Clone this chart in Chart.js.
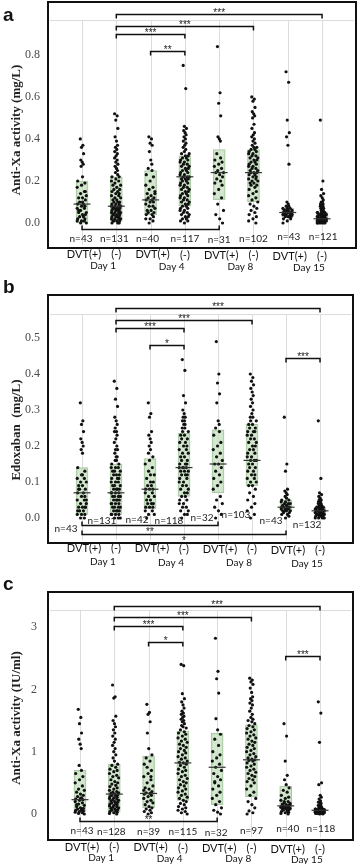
<!DOCTYPE html>
<html>
<head>
<meta charset="utf-8">
<script src="https://cdn.jsdelivr.net/npm/chart.js@4.4.1/dist/chart.umd.min.js"></script>
<style>
  html, body { margin: 0; padding: 0; background: #fff; width: 358px; height: 864px; overflow: hidden; }
  canvas { position: absolute; left: 0; }
</style>
</head>
<body>
<canvas id="chart-a" width="358" height="275" style="top:0px"></canvas>
<canvas id="chart-b" width="358" height="295" style="top:275px"></canvas>
<canvas id="chart-c" width="358" height="294" style="top:570px"></canvas>
<script>
// categories
const groups = ['DVT(+)', '(-)', 'DVT(+)', '(-)', 'DVT(+)', '(-)', 'DVT(+)', '(-)'];
const days = ['Day 1', 'Day 4', 'Day 8', 'Day 15'];

// ---- panel a : Anti-Xa activity (mg/L) ----
const nA = [43, 131, 40, 117, 31, 102, 43, 121];
const q1A = [0.00, 0.01, 0.04, 0.08, 0.11, 0.10, 0.03, 0.01];
const medA = [0.09, 0.08, 0.11, 0.22, 0.24, 0.24, 0.05, 0.02];
const q3A = [0.20, 0.22, 0.25, 0.32, 0.35, 0.35, 0.07, 0.05];
const ticksA = [0, 0.2, 0.4, 0.6, 0.8];
const dotsA = [
  [0.40,0.37,0.36,0.33,0.30,0.29,0.28,0.27,0.22,0.20,0.19,0.18,0.17,0.15,0.14,0.13,0.12,0.12,0.11,0.10,0.09,0.09,0.08,0.08,0.07,0.07,0.06,0.05,0.05,0.04,0.04,0.03,0.03,0.02,0.02,0.01,0.01,0.01,0.00,0.00,0.06,0.10,0.15],
  [0.52,0.51,0.49,0.45,0.41,0.39,0.37,0.36,0.35,0.34,0.33,0.32,0.31,0.30,0.29,0.28,0.27,0.26,0.25,0.24,0.23,0.22,0.22,0.21,0.20,0.20,0.19,0.18,0.18,0.17,0.16,0.16,0.15,0.15,0.14,0.14,0.13,0.13,0.12,0.12,0.11,0.11,0.10,0.10,0.10,0.09,0.09,0.09,0.08,0.08,0.08,0.08,0.07,0.07,0.07,0.07,0.06,0.06,0.06,0.06,0.05,0.05,0.05,0.05,0.04,0.04,0.04,0.04,0.03,0.03,0.03,0.03,0.02,0.02,0.02,0.02,0.01,0.01,0.01,0.01,0.00,0.00,0.00],
  [0.41,0.40,0.38,0.37,0.34,0.30,0.28,0.26,0.25,0.23,0.22,0.20,0.18,0.17,0.16,0.15,0.14,0.13,0.12,0.12,0.11,0.11,0.10,0.10,0.09,0.08,0.08,0.07,0.06,0.06,0.05,0.05,0.04,0.04,0.03,0.02,0.02,0.01,0.00,0.14],
  [0.75,0.64,0.46,0.45,0.44,0.43,0.42,0.41,0.40,0.39,0.38,0.37,0.36,0.35,0.34,0.33,0.33,0.32,0.32,0.31,0.31,0.30,0.30,0.29,0.29,0.28,0.28,0.27,0.27,0.26,0.26,0.25,0.25,0.24,0.24,0.23,0.23,0.22,0.22,0.22,0.21,0.21,0.21,0.20,0.20,0.19,0.19,0.18,0.18,0.17,0.17,0.16,0.16,0.15,0.15,0.14,0.14,0.13,0.13,0.12,0.12,0.11,0.11,0.10,0.10,0.09,0.09,0.08,0.08,0.07,0.07,0.06,0.06,0.05,0.05,0.04,0.04,0.03,0.03,0.02,0.02,0.01,0.01,0.00],
  [0.84,0.62,0.57,0.51,0.41,0.40,0.39,0.33,0.31,0.30,0.29,0.28,0.27,0.26,0.25,0.24,0.24,0.23,0.22,0.21,0.20,0.19,0.18,0.16,0.14,0.12,0.09,0.06,0.04,0.02,0.00],
  [0.60,0.59,0.58,0.55,0.53,0.52,0.51,0.50,0.47,0.45,0.43,0.42,0.41,0.40,0.39,0.38,0.37,0.36,0.36,0.35,0.35,0.34,0.34,0.33,0.33,0.32,0.32,0.31,0.31,0.30,0.30,0.29,0.29,0.28,0.28,0.27,0.27,0.26,0.26,0.25,0.25,0.24,0.24,0.24,0.23,0.23,0.22,0.22,0.21,0.21,0.20,0.20,0.19,0.19,0.18,0.18,0.17,0.16,0.15,0.14,0.13,0.12,0.11,0.10,0.09,0.08,0.07,0.06,0.05,0.04,0.03,0.02,0.01,0.00],
  [0.72,0.67,0.49,0.43,0.41,0.37,0.28,0.10,0.09,0.08,0.08,0.07,0.07,0.07,0.06,0.06,0.06,0.06,0.05,0.05,0.05,0.05,0.05,0.05,0.04,0.04,0.04,0.04,0.04,0.03,0.03,0.03,0.03,0.02,0.02,0.01,0.00],
  [0.49,0.20,0.16,0.14,0.13,0.12,0.11,0.10,0.10,0.09,0.09,0.08,0.08,0.08,0.07,0.07,0.07,0.06,0.06,0.06,0.06,0.05,0.05,0.05,0.05,0.05,0.04,0.04,0.04,0.04,0.04,0.04,0.03,0.03,0.03,0.03,0.03,0.03,0.03,0.02,0.02,0.02,0.02,0.02,0.02,0.02,0.02,0.01,0.01,0.01,0.01,0.01,0.01,0.01,0.01,0.00,0.00,0.00,0.00,0.00,0.00]
];
const cmpA = [[2, 8, '***'], [2, 6, '***'], [2, 4, '***'], [3, 4, '**'], [1, 5, '']];

// ---- panel b : Edoxaban (mg/L) ----
const nB = [43, 131, 42, 118, 32, 103, 43, 132];
const q1B = [0.01, 0.01, 0.025, 0.06, 0.07, 0.09, 0.02, 0.01];
const medB = [0.07, 0.07, 0.08, 0.14, 0.15, 0.16, 0.03, 0.02];
const q3B = [0.14, 0.15, 0.165, 0.235, 0.245, 0.26, 0.05, 0.03];
const ticksB = [0, 0.1, 0.2, 0.3, 0.4, 0.5];
const dotsB = [
  [0.32,0.27,0.26,0.24,0.22,0.21,0.20,0.19,0.18,0.14,0.13,0.12,0.11,0.11,0.10,0.10,0.09,0.09,0.08,0.08,0.07,0.07,0.06,0.06,0.05,0.05,0.04,0.04,0.03,0.03,0.03,0.02,0.02,0.02,0.01,0.01,0.01,0.00,0.00,0.05,0.08,0.12,0.03],
  [0.38,0.36,0.33,0.31,0.28,0.27,0.26,0.25,0.24,0.24,0.23,0.22,0.21,0.20,0.19,0.19,0.18,0.17,0.17,0.16,0.16,0.15,0.15,0.14,0.14,0.14,0.13,0.13,0.13,0.12,0.12,0.12,0.11,0.11,0.11,0.10,0.10,0.10,0.09,0.09,0.09,0.08,0.08,0.08,0.08,0.07,0.07,0.07,0.07,0.06,0.06,0.06,0.06,0.05,0.05,0.05,0.05,0.04,0.04,0.04,0.04,0.03,0.03,0.03,0.03,0.02,0.02,0.02,0.02,0.01,0.01,0.01,0.01,0.00,0.00,0.00],
  [0.32,0.29,0.28,0.24,0.23,0.22,0.21,0.20,0.19,0.18,0.17,0.16,0.15,0.14,0.13,0.12,0.11,0.10,0.10,0.09,0.09,0.08,0.08,0.08,0.07,0.07,0.06,0.06,0.05,0.05,0.04,0.04,0.04,0.03,0.03,0.03,0.02,0.02,0.01,0.01,0.00,0.12],
  [0.44,0.41,0.34,0.32,0.30,0.29,0.28,0.28,0.27,0.27,0.26,0.26,0.25,0.25,0.24,0.24,0.23,0.23,0.22,0.22,0.21,0.21,0.20,0.20,0.19,0.19,0.18,0.18,0.17,0.17,0.16,0.16,0.15,0.15,0.15,0.14,0.14,0.14,0.14,0.13,0.13,0.13,0.12,0.12,0.12,0.11,0.11,0.10,0.10,0.09,0.09,0.08,0.08,0.07,0.07,0.06,0.06,0.05,0.05,0.04,0.04,0.03,0.03,0.02,0.02,0.01,0.01,0.00],
  [0.49,0.40,0.375,0.345,0.32,0.27,0.26,0.25,0.24,0.23,0.21,0.20,0.19,0.18,0.17,0.16,0.15,0.15,0.14,0.13,0.12,0.11,0.10,0.09,0.08,0.06,0.05,0.04,0.03,0.02,0.01,0.00],
  [0.40,0.39,0.38,0.37,0.36,0.35,0.34,0.33,0.32,0.31,0.30,0.29,0.28,0.28,0.27,0.27,0.26,0.26,0.25,0.25,0.24,0.24,0.24,0.23,0.23,0.22,0.22,0.21,0.21,0.20,0.20,0.19,0.19,0.18,0.18,0.17,0.17,0.16,0.16,0.16,0.15,0.15,0.14,0.14,0.13,0.13,0.12,0.12,0.11,0.11,0.10,0.10,0.09,0.09,0.08,0.07,0.06,0.05,0.04,0.03,0.02,0.01,0.00],
  [0.28,0.15,0.13,0.08,0.075,0.07,0.065,0.06,0.055,0.05,0.05,0.045,0.045,0.04,0.04,0.04,0.035,0.035,0.03,0.03,0.03,0.03,0.03,0.025,0.025,0.025,0.02,0.02,0.02,0.02,0.015,0.015,0.01,0.01,0.005,0.00],
  [0.27,0.11,0.07,0.065,0.06,0.055,0.05,0.05,0.045,0.045,0.04,0.04,0.04,0.035,0.035,0.035,0.03,0.03,0.03,0.03,0.025,0.025,0.025,0.025,0.025,0.02,0.02,0.02,0.02,0.02,0.02,0.02,0.015,0.015,0.015,0.015,0.015,0.015,0.01,0.01,0.01,0.01,0.01,0.01,0.005,0.005,0.005,0.005,0.00,0.00,0.00,0.00]
];
const cmpB = [[2, 8, '***'], [2, 6, '***'], [2, 4, '***'], [3, 4, '*'], [7, 8, '***'], [1, 5, '**'], [1, 7, '*']];

// ---- panel c : Anti-Xa activity (IU/ml) ----
const nC = [43, 128, 39, 115, 32, 97, 40, 118];
const q1C = [0.03, 0.03, 0.10, 0.22, 0.15, 0.28, 0.07, 0.03];
const medC = [0.23, 0.32, 0.33, 0.82, 0.75, 0.87, 0.13, 0.06];
const q3C = [0.70, 0.80, 0.93, 1.33, 1.30, 1.43, 0.45, 0.08];
const ticksC = [0, 1, 2, 3];
const dotsC = [
  [1.68,1.55,1.45,1.30,1.20,1.12,1.05,0.78,0.70,0.65,0.60,0.55,0.50,0.45,0.40,0.38,0.35,0.32,0.30,0.28,0.26,0.24,0.23,0.22,0.20,0.18,0.16,0.14,0.12,0.10,0.09,0.08,0.07,0.06,0.05,0.04,0.03,0.02,0.01,0.00,0.15,0.25,0.05],
  [2.07,1.88,1.86,1.57,1.50,1.45,1.40,1.35,1.30,1.25,1.20,1.15,1.10,1.05,1.00,0.95,0.90,0.85,0.80,0.78,0.75,0.72,0.70,0.68,0.65,0.62,0.60,0.58,0.55,0.52,0.50,0.48,0.46,0.44,0.42,0.40,0.38,0.36,0.35,0.34,0.33,0.32,0.31,0.30,0.29,0.28,0.27,0.26,0.25,0.24,0.23,0.22,0.21,0.20,0.19,0.18,0.17,0.16,0.15,0.14,0.13,0.12,0.11,0.10,0.09,0.08,0.07,0.06,0.05,0.04,0.03,0.02,0.01,0.00],
  [1.76,1.63,1.60,1.48,1.30,1.05,0.95,0.90,0.85,0.80,0.70,0.65,0.60,0.55,0.50,0.45,0.42,0.40,0.36,0.34,0.33,0.32,0.30,0.28,0.25,0.22,0.20,0.18,0.15,0.12,0.10,0.08,0.06,0.04,0.02,0.00,0.38,0.60,0.75],
  [2.40,2.38,1.93,1.85,1.80,1.75,1.70,1.65,1.62,1.60,1.57,1.55,1.52,1.50,1.48,1.45,1.42,1.40,1.38,1.35,1.32,1.30,1.28,1.25,1.22,1.20,1.17,1.15,1.12,1.10,1.07,1.05,1.02,1.00,0.98,0.95,0.92,0.90,0.88,0.85,0.83,0.82,0.80,0.78,0.75,0.72,0.70,0.68,0.65,0.62,0.60,0.57,0.55,0.52,0.50,0.47,0.45,0.42,0.40,0.37,0.35,0.32,0.30,0.27,0.25,0.22,0.20,0.17,0.15,0.12,0.10,0.08,0.06,0.04,0.02,0.00],
  [2.82,2.29,2.17,1.94,1.53,1.35,1.28,1.20,1.10,1.00,0.95,0.90,0.85,0.80,0.75,0.70,0.65,0.60,0.55,0.50,0.45,0.40,0.35,0.30,0.25,0.20,0.15,0.10,0.06,0.03,0.00,0.52],
  [2.18,2.15,2.12,2.08,2.02,1.95,1.88,1.85,1.82,1.78,1.75,1.70,1.65,1.60,1.55,1.52,1.50,1.48,1.45,1.42,1.40,1.37,1.35,1.32,1.30,1.27,1.25,1.22,1.20,1.17,1.15,1.12,1.10,1.07,1.05,1.02,1.00,0.97,0.95,0.92,0.90,0.88,0.87,0.86,0.85,0.82,0.80,0.77,0.75,0.72,0.70,0.67,0.65,0.62,0.60,0.57,0.55,0.52,0.50,0.45,0.40,0.35,0.30,0.25,0.20,0.15,0.10,0.05,0.02,0.00],
  [1.45,1.25,0.85,0.62,0.55,0.47,0.42,0.38,0.35,0.30,0.27,0.25,0.22,0.20,0.18,0.17,0.16,0.15,0.14,0.13,0.13,0.12,0.12,0.11,0.11,0.10,0.10,0.09,0.09,0.08,0.07,0.06,0.05,0.04,0.03,0.02,0.01,0.00,0.20,0.15],
  [1.80,1.62,1.15,0.50,0.47,0.30,0.27,0.24,0.21,0.19,0.17,0.15,0.14,0.13,0.12,0.11,0.10,0.10,0.09,0.09,0.09,0.08,0.08,0.08,0.08,0.07,0.07,0.07,0.07,0.07,0.06,0.06,0.06,0.06,0.06,0.06,0.05,0.05,0.05,0.05,0.05,0.05,0.04,0.04,0.04,0.04,0.04,0.03,0.03,0.03,0.03,0.02,0.02,0.02,0.02,0.01,0.01,0.01,0.00,0.00]
];
const cmpC = [[2, 8, '***'], [2, 6, '***'], [2, 4, '***'], [3, 4, '*'], [7, 8, '***'], [1, 5, '**']];

// layout of each panel (pixels inside its canvas), kept apart from the data
const panels = [
  {
    canvas: 'chart-a', letter: 'a', letterY: 21, title: 'Anti-Xa activity (mg/L)', titleY: 130,
    n: nA, q1: q1A, med: medA, q3: q3A, dots: dotsA, ticks: ticksA, cmp: cmpA, digits: 1,
    pad: { top: 2, right: 2, bottom: 27 }, yMin: -0.119, yMax: 1.052, xMin: 0.008, xMax: 8.99,
    gridTop: 20, cmpY: [14, 26, 34, 51, 229], cmpBelow: [false, false, false, false, false],
    nY: [239, 239, 239, 239, 240, 239, 237, 237], nDx: [-1, -2, -3, 0, 0, 0, 1, 1],
    grpY: 254, dayY: 266
  },
  {
    canvas: 'chart-b', letter: 'b', letterY: 18, title: 'Edoxaban  (mg/L)', titleY: 155,
    n: nB, q1: q1B, med: medB, q3: q3B, dots: dotsB, ticks: ticksB, cmp: cmpB, digits: 1,
    pad: { top: 20, right: 5, bottom: 27 }, yMin: -0.0694, yMax: 0.6194, xMin: 0, xMax: 8.97,
    gridTop: 39, cmpY: [33, 45, 53, 70, 83, 250, 259], cmpBelow: [false, false, false, false, false, true, true],
    nY: [254, 246, 245, 246, 243, 240, 246, 250], nDx: [-16, -14, -13, -15, -16, -16, -15, -13],
    grpY: 273, dayY: 287
  },
  {
    canvas: 'chart-c', letter: 'c', letterY: 20, title: 'Anti-Xa activity (IU/ml)', titleY: 148,
    n: nC, q1: q1C, med: medC, q3: q3C, dots: dotsC, ticks: ticksC, cmp: cmpC, digits: 0,
    pad: { top: 22, right: 5, bottom: 24 }, yMin: -0.417, yMax: 3.562, xMin: 0.067, xMax: 8.962,
    gridTop: 40, cmpY: [36, 47, 56, 72, 86, 251], cmpBelow: [false, false, false, false, false, false],
    nY: [261, 262, 262, 262, 263, 261, 259, 259], nDx: [2, -3, 0, 0, -1, 0, 2, 1],
    grpY: 277, dayY: 288
  }
];

const JIT = [-1, 0.5, -0.3, 0.9, -0.7, 0.1, 0.7, -0.5, 0.3, -0.9, 0.6, -0.1];

function makeDecor(p) {
  return {
    id: 'decor-' + p.letter,
    beforeDatasetsDraw(chart) {
      const { ctx, chartArea: a, scales: { x } } = chart;
      ctx.save();
      ctx.strokeStyle = '#dcdcdc';
      ctx.lineWidth = 1;
      ctx.beginPath();
      ctx.moveTo(a.left + 2, p.gridTop + 0.5);
      ctx.lineTo(a.right - 2, p.gridTop + 0.5);
      for (let i = 1; i <= groups.length; i++) {
        const px = Math.round(x.getPixelForValue(i)) + 0.5;
        ctx.moveTo(px, p.gridTop);
        ctx.lineTo(px, a.bottom - 3);
      }
      ctx.stroke();
      ctx.restore();
    },
    afterDraw(chart) {
      const { ctx, chartArea: a, scales: { x } } = chart;
      ctx.save();
      // frame
      ctx.strokeStyle = '#111';
      ctx.lineWidth = 2;
      ctx.strokeRect(a.left, a.top, a.right - a.left, a.bottom - a.top);

      // significance brackets
      ctx.lineWidth = 1.5;
      ctx.fillStyle = '#222';
      ctx.font = '10px "Liberation Sans", Arial, sans-serif';
      ctx.textAlign = 'center';
      ctx.textBaseline = 'alphabetic';
      p.cmp.forEach(([from, to, label], k) => {
        const yy = p.cmpY[k] + 0.5;
        const x0 = x.getPixelForValue(from), x1 = x.getPixelForValue(to);
        const up = yy > a.bottom - 60;
        const tick = up ? -4 : 4;
        ctx.beginPath();
        ctx.moveTo(x0, yy + tick);
        ctx.lineTo(x0, yy);
        ctx.lineTo(x1, yy);
        ctx.lineTo(x1, yy + tick);
        ctx.stroke();
        if (label) ctx.fillText(label, (x0 + x1) / 2, p.cmpBelow[k] ? yy + 9 : yy + 1);
      });

      // sample sizes
      ctx.font = '10px Lato, "Open Sans", sans-serif';
      ctx.textBaseline = 'middle';
      p.n.forEach((v, i) => {
        ctx.fillText('n=' + v, x.getPixelForValue(i + 1) + p.nDx[i], p.nY[i]);
      });

      // group and day labels under the frame
      ctx.fillStyle = '#111';
      ctx.font = '11px Lato, "Open Sans", sans-serif';
      groups.forEach((g, i) => {
        ctx.fillText(g, x.getPixelForValue(i + 1) + (i % 2 ? 0 : 2), p.grpY + i * 0.35);
      });
      ctx.font = '10px Lato, "Open Sans", sans-serif';
      days.forEach((d, j) => {
        const mid = (x.getPixelForValue(2 * j + 1) + x.getPixelForValue(2 * j + 2)) / 2;
        ctx.fillText(d, mid + 4, p.dayY + j * 0.6);
      });

      // panel letter
      ctx.textAlign = 'left';
      ctx.textBaseline = 'alphabetic';
      ctx.font = 'bold 19px "Liberation Sans", Arial, sans-serif';
      ctx.fillText(p.letter, 3, p.letterY);

      // y-axis title
      ctx.translate(17, p.titleY);
      ctx.rotate(-Math.PI / 2);
      ctx.textAlign = 'center';
      ctx.textBaseline = 'middle';
      ctx.font = 'bold 13px "Liberation Serif", "Times New Roman", serif';
      ctx.fillStyle = '#222';
      ctx.fillText(p.title, 0, 0);
      ctx.restore();
    }
  };
}

panels.forEach(p => {
  const boxes = p.q1.map((lo, i) => ({ x: i + 1, y: [lo, p.q3[i]] }));
  const medians = p.med.map((m, i) => ({ x: i + 1, y: m }));
  const points = [];
  p.dots.forEach((vals, i) => {
    vals.forEach((v, k) => {
      const inside = v <= p.q3[i] * 1.05;
      const amp = inside ? 0.14 : 0.05;
      points.push({ x: i + 1 + JIT[k % JIT.length] * amp, y: v });
    });
  });

  new Chart(document.getElementById(p.canvas), {
    type: 'bar',
    data: {
      datasets: [
        {
          type: 'bar', data: boxes, order: 3,
          backgroundColor: 'rgba(196, 224, 190, 0.75)', borderColor: '#a9c8a3', borderWidth: 1,
          borderSkipped: false, barThickness: 12, grouped: false
        },
        {
          type: 'scatter', data: points, order: 2,
          pointRadius: 1.6, pointBackgroundColor: '#111', pointBorderWidth: 0, pointHoverRadius: 1.6
        },
        {
          type: 'scatter', data: medians, order: 1,
          pointStyle: 'line', pointRadius: 8.5, pointBorderColor: '#333', pointBorderWidth: 1.2
        }
      ]
    },
    options: {
      responsive: false,
      animation: false,
      layout: { autoPadding: false, padding: { top: p.pad.top, right: p.pad.right, bottom: p.pad.bottom, left: 0 } },
      plugins: { legend: { display: false }, tooltip: { enabled: false } },
      scales: {
        x: { type: 'linear', min: p.xMin, max: p.xMax, offset: false, display: false },
        y: {
          type: 'linear', min: p.yMin, max: p.yMax,
          grid: { display: false, drawTicks: false }, border: { display: false },
          afterBuildTicks: s => { s.ticks = p.ticks.map(v => ({ value: v })); },
          afterFit: s => { s.width = 48; s.paddingTop = 0; s.paddingBottom = 0; },
          ticks: {
            padding: p.digits ? 8 : 11,
            color: '#4a4a4a',
            font: { family: '"Liberation Serif", "Times New Roman", serif', size: 12 },
            callback: v => Number(v).toFixed(p.digits)
          }
        }
      }
    },
    plugins: [makeDecor(p)]
  });
});
</script>
</body>
</html>
